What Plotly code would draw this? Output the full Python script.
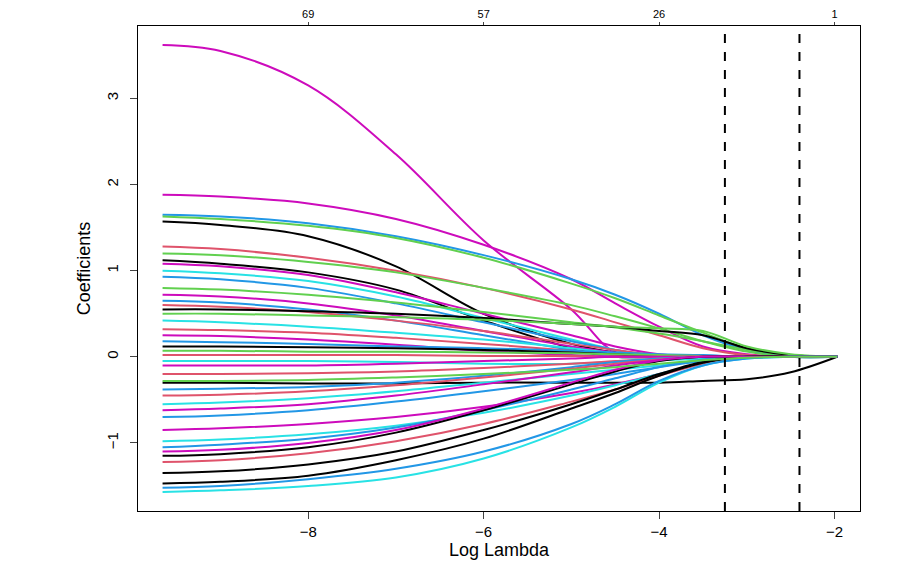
import plotly.graph_objects as go

log_lambda = [-9.66, -9, -8, -7, -6, -5, -4.5, -4, -3.5, -3, -2.5, -1.97]
top_ticks_x = [-8, -6, -4, -2]
top_ticks_labels = ["69", "57", "26", "1"]
cv_lines = [-3.25, -2.40]

C = {"black": "#000000", "red": "#DF536B", "green": "#61D04F", "blue": "#2297E6",
     "cyan": "#28E2E5", "magenta": "#CD0BBC"}

path_colors = ["magenta", "magenta", "blue", "green", "black", "red", "green", "black", "magenta",
               "cyan", "blue", "green", "magenta", "blue", "red", "black", "green", "cyan", "red",
               "magenta", "blue", "black", "green", "red", "cyan", "magenta", "black", "red", "blue",
               "red", "cyan", "magenta", "blue", "magenta", "cyan", "blue", "black", "red", "black",
               "black", "cyan", "blue", "magenta", "green"]

coef_paths = [
    [3.62, 3.55, 3.15, 2.35, 1.35, 0.55, 0.05, 0, 0, 0, 0, 0],
    [1.88, 1.86, 1.78, 1.6, 1.3, 0.9, 0.62, 0.35, 0.12, 0.03, 0, 0],
    [1.65, 1.63, 1.55, 1.4, 1.18, 0.9, 0.72, 0.5, 0.25, 0.08, 0, 0],
    [1.63, 1.6, 1.52, 1.38, 1.15, 0.85, 0.68, 0.48, 0.28, 0.1, 0.02, 0],
    [1.57, 1.53, 1.4, 1.05, 0.5, 0.15, 0.05, 0, 0, 0, 0, 0],
    [1.28, 1.25, 1.15, 1.0, 0.8, 0.55, 0.4, 0.25, 0.1, 0.02, 0, 0],
    [1.2, 1.18, 1.1, 0.98, 0.8, 0.6, 0.47, 0.33, 0.18, 0.06, 0, 0],
    [1.12, 1.08, 0.98, 0.78, 0.42, 0.1, 0, 0, 0, 0, 0, 0],
    [1.08, 1.05, 0.95, 0.75, 0.5, 0.25, 0.12, 0.03, 0, 0, 0, 0],
    [1.0, 0.97, 0.88, 0.7, 0.45, 0.2, 0.08, 0, 0, 0, 0, 0],
    [0.93, 0.9, 0.8, 0.62, 0.4, 0.18, 0.08, 0.01, 0, 0, 0, 0],
    [0.8, 0.78, 0.72, 0.63, 0.52, 0.4, 0.34, 0.27, 0.18, 0.08, 0.02, 0],
    [0.72, 0.7, 0.62, 0.48, 0.3, 0.12, 0.05, 0, 0, 0, 0, 0],
    [0.65, 0.63, 0.55, 0.42, 0.25, 0.08, 0, 0, 0, 0, 0, 0],
    [0.6, 0.58, 0.52, 0.42, 0.3, 0.15, 0.08, 0.02, 0, 0, 0, 0],
    [0.55, 0.55, 0.53, 0.5, 0.45, 0.38, 0.35, 0.3, 0.25, 0.1, 0.02, 0],
    [0.5, 0.5, 0.48, 0.46, 0.43, 0.38, 0.35, 0.33, 0.3, 0.12, 0.03, 0],
    [0.42, 0.4, 0.35, 0.28, 0.2, 0.1, 0.04, 0, 0, 0, 0, 0],
    [0.32, 0.31, 0.28, 0.22, 0.15, 0.07, 0.02, 0, 0, 0, 0, 0],
    [0.25, 0.24, 0.2, 0.14, 0.07, 0.02, 0, 0, 0, 0, 0, 0],
    [0.18, 0.17, 0.15, 0.12, 0.1, 0.07, 0.05, 0.03, 0.02, 0, 0, 0],
    [0.12, 0.12, 0.11, 0.1, 0.08, 0.05, 0.03, 0.01, 0, 0, 0, 0],
    [0.07, 0.07, 0.06, 0.06, 0.05, 0.04, 0.03, 0.02, 0.01, 0, 0, 0],
    [0.02, 0.02, 0.02, 0.02, 0.01, 0.01, 0, 0, 0, 0, 0, 0],
    [-0.05, -0.05, -0.05, -0.06, -0.08, -0.08, -0.06, -0.04, -0.02, 0, 0, 0],
    [-0.1, -0.1, -0.1, -0.08, -0.05, -0.02, 0, 0, 0, 0, 0, 0],
    [-0.3, -0.3, -0.31, -0.31, -0.3, -0.3, -0.3, -0.3, -0.28, -0.26, -0.18, 0],
    [-0.2, -0.2, -0.19, -0.17, -0.13, -0.08, -0.05, -0.02, 0, 0, 0, 0],
    [-0.38, -0.37, -0.35, -0.3, -0.22, -0.12, -0.06, -0.02, 0, 0, 0, 0],
    [-0.45, -0.44, -0.4, -0.33, -0.24, -0.14, -0.08, -0.03, 0, 0, 0, 0],
    [-0.55, -0.53, -0.48, -0.4, -0.3, -0.2, -0.15, -0.1, -0.05, -0.01, 0, 0],
    [-0.62, -0.6, -0.55, -0.45, -0.32, -0.18, -0.1, -0.04, 0, 0, 0, 0],
    [-0.7, -0.68, -0.62, -0.52, -0.4, -0.27, -0.2, -0.12, -0.05, 0, 0, 0],
    [-0.85, -0.83, -0.78, -0.7, -0.58, -0.42, -0.32, -0.2, -0.08, -0.01, 0, 0],
    [-0.98, -0.96, -0.9, -0.8, -0.65, -0.45, -0.33, -0.2, -0.08, -0.01, 0, 0],
    [-1.05, -1.02, -0.95, -0.82, -0.62, -0.38, -0.25, -0.12, -0.03, 0, 0, 0],
    [-1.15, -1.13, -1.05, -0.88, -0.62, -0.32, -0.17, -0.05, 0, 0, 0, 0],
    [-1.22, -1.2, -1.12, -0.98, -0.78, -0.52, -0.38, -0.22, -0.08, 0, 0, 0],
    [-1.35, -1.33, -1.25, -1.1, -0.85, -0.55, -0.38, -0.2, -0.06, 0, 0, 0],
    [-1.47, -1.45, -1.38, -1.2, -0.95, -0.6, -0.42, -0.22, -0.07, 0, 0, 0],
    [-1.57, -1.55, -1.5, -1.4, -1.18, -0.82, -0.58, -0.3, -0.1, -0.02, 0, 0],
    [-1.52, -1.5, -1.42, -1.3, -1.1, -0.78, -0.55, -0.28, -0.1, -0.02, 0, 0],
    [-1.1, -1.08, -1.0, -0.85, -0.6, -0.3, -0.15, -0.04, 0, 0, 0, 0],
    [-0.28, -0.28, -0.27, -0.24, -0.2, -0.15, -0.12, -0.08, -0.04, -0.01, 0, 0],
]

fig = go.Figure()
for col, ys in zip(path_colors, coef_paths):
    fig.add_trace(go.Scatter(x=log_lambda, y=ys, mode="lines", line=dict(color=C[col], width=2),
                             line_shape="spline", showlegend=False, hoverinfo="skip"))
fig.add_trace(go.Scatter(x=[log_lambda[0]], y=[0], xaxis="x2", mode="markers",
                         marker=dict(opacity=0), showlegend=False, hoverinfo="skip"))
for v in cv_lines:
    fig.add_vline(x=v, line=dict(color="black", width=2, dash="dash"))

font = dict(family="Liberation Sans, Arial", size=15, color="black")
xr = [-9.94, -1.71]
fig.update_layout(
    width=911, height=568, margin=dict(l=130, r=59, t=18, b=65),
    plot_bgcolor="white", paper_bgcolor="white", font=font,
    xaxis=dict(range=xr, tickvals=[-8, -6, -4, -2], ticks="outside", ticklen=7, automargin=False,
               showline=True, linecolor="black", mirror=True, showgrid=False, zeroline=False,
               title=dict(text="Log Lambda", standoff=4)),
    xaxis2=dict(range=xr, overlaying="x", side="top", tickvals=top_ticks_x, ticktext=top_ticks_labels,
                ticks="outside", ticklen=3, showgrid=False, zeroline=False, automargin=False,
                tickfont=dict(size=11, family="Liberation Sans, Arial")),
    yaxis=dict(range=[-1.79, 3.84], tickvals=[-1, 0, 1, 2, 3], ticks="outside", ticklen=7,
               tickangle=-90, showline=True, linecolor="black", mirror=True, showgrid=False,
               zeroline=False, automargin=False, ticklabelstandoff=6,
               title=dict(text="Coefficients", standoff=8)),
)
fig.write_html("out.html")
